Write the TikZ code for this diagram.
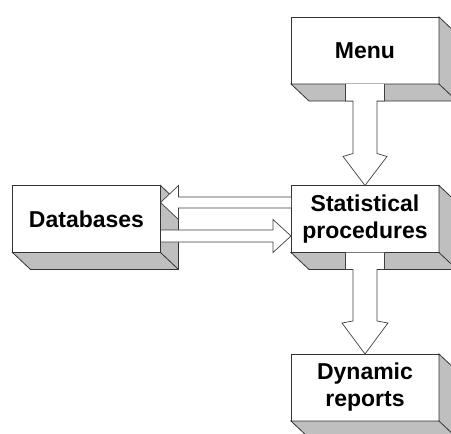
\documentclass[tikz,border=0pt]{standalone}
\usepackage{fontspec}
\setmainfont{Liberation Sans}
\usetikzlibrary{calc}
\begin{document}
\begin{tikzpicture}[x=1pt,y=-1pt,
 boxfront/.style={draw=black!80,line width=0.9pt,fill=white,minimum width=148pt,minimum height=67pt,inner sep=0pt,outer sep=0pt,align=center,font=\fontsize{23}{27}\selectfont\bfseries},
 depthface/.style={draw=black!80,line width=0.8pt,fill=black!25,line join=miter},
 hollow/.style={draw=black!75,line width=0.7pt,fill=white,line join=miter}]
\useasboundingbox (0,0) rectangle (451,434);
% front faces
\node[boxfront] (menu) at (365,50.5) {Menu};
\node[boxfront] (stat) at (365,219) {Statistical\\procedures};
\node[boxfront] (db) at (86.5,219) {Databases};
\node[boxfront] (dyn) at (365,387.5) {Dynamic\\reports};
% depth faces
\foreach \b in {menu,stat,db,dyn}{
  \draw[depthface] (\b.north east) -- ++(18,17) -- ++(0,67) -- ++(-148,0) -- (\b.south west) -- (\b.south east) -- cycle;
  \draw[depthface] (\b.south east) -- ++(18,17);
}
% Menu -> Statistical procedures
\filldraw[hollow] ($(menu.south)+(-19.5,0)$) -- ++(0,17) -- ++(7.5,0)
  -- ($(stat.north)+(-12,-32)$) -- ($(stat.north)+(-22,-29)$) -- (stat.north)
  -- ($(stat.north)+(22,-29)$) -- ($(stat.north)+(12,-32)$)
  -- ($(menu.south)+(12,17)$) -- ++(7.5,0) -- ++(0,-17);
% Statistical procedures -> Dynamic reports
\filldraw[hollow] ($(stat.south)+(-19.5,0)$) -- ++(0,17) -- ++(7.5,0)
  -- ($(dyn.north)+(-12,-33)$) -- ($(dyn.north)+(-23,-31)$) -- (dyn.north)
  -- ($(dyn.north)+(23,-31)$) -- ($(dyn.north)+(12,-33)$)
  -- ($(stat.south)+(12,17)$) -- ++(7.5,0) -- ++(0,-17);
% Statistical procedures -> Databases
\coordinate (ta) at ($(db.north east)+(0,17)$);
\coordinate (sa) at ($(stat.north west)+(0,17)$);
\filldraw[hollow] ($(sa)+(0,-5.5)$) -- ($(ta)+(18,-5.5)$) -- ($(ta)+(18,-17)$) -- (ta)
  -- ($(ta)+(18,17)$) -- ($(ta)+(18,5.5)$) -- ($(sa)+(0,5.5)$);
% Databases -> Statistical procedures
\coordinate (tb) at ($(stat.south west)+(0,-16.5)$);
\coordinate (sb) at ($(db.south east)+(0.5,-16.5)$);
\filldraw[hollow] ($(sb)+(0,-6)$) -- ($(tb)+(-18,-6)$) -- ($(tb)+(-18,-16.5)$) -- (tb)
  -- ($(tb)+(-18,16.5)$) -- ($(tb)+(-18,6)$) -- ($(sb)+(0,6)$);
\end{tikzpicture}
\end{document}
